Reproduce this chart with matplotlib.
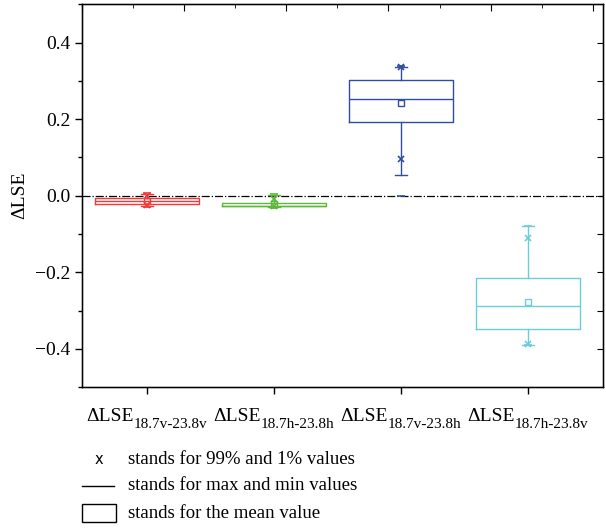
import matplotlib
matplotlib.use("Agg")
import matplotlib.pyplot as plt
import matplotlib.transforms as mtransforms
from matplotlib.patches import Rectangle
from matplotlib.lines import Line2D

plt.rcParams['font.family'] = ['Liberation Serif', 'DejaVu Serif']

# data
labels = ['18.7v-23.8v', '18.7h-23.8h', '18.7v-23.8h', '18.7h-23.8v']
q1 = [-0.021, -0.027, 0.192, -0.347]
med = [-0.013, -0.026, 0.253, -0.289]
q3 = [-0.005, -0.018, 0.301, -0.216]
whislo = [-0.027, -0.030, 0.053, -0.389]
whishi = [0.005, 0.003, 0.337, -0.079]
mean = [-0.015, -0.022, 0.242, -0.279]
p01 = [-0.025, -0.028, 0.095, -0.387]
p99 = [-0.002, -0.008, 0.335, -0.110]
vmin = [-0.029, -0.031, 0.000, -0.390]
vmax = [0.006, 0.004, 0.340, -0.079]
colors = ['#f23a3a', '#5cb83a', '#2f4ea3', '#6cccdc']

fig = plt.figure(figsize=(6.06, 5.31), dpi=100)
ax = fig.add_axes([0.1353, 0.271, 0.8597, 0.721])

positions = list(range(1, len(labels) + 1))
for i, pos in enumerate(positions):
    st = dict(q1=q1[i], med=med[i], q3=q3[i], whislo=whislo[i],
              whishi=whishi[i], mean=mean[i], fliers=[])
    c = colors[i]
    ax.bxp([st], positions=[pos], widths=0.82, capwidths=0.1,
           showmeans=True, showfliers=False,
           boxprops=dict(color=c, linewidth=1.0),
           medianprops=dict(color=c, linewidth=1.0),
           whiskerprops=dict(color=c, linewidth=1.0),
           capprops=dict(color=c, linewidth=1.0),
           meanprops=dict(marker='s', markerfacecolor='none',
                          markeredgecolor=c, markersize=4.5, markeredgewidth=1.0))
    ax.plot([pos, pos], [p01[i], p99[i]], linestyle='none', marker='x',
            color=c, markersize=5, markeredgewidth=1.2)
    ax.plot([pos, pos], [vmin[i], vmax[i]], linestyle='none', marker='_',
            color=c, markersize=6, markeredgewidth=1.2)

ax.axhline(0, color='black', linestyle='-.', linewidth=0.9, zorder=0)

ax.set_xlim(0.488, 4.59)
ax.set_ylim(-0.5, 0.5)
ax.set_yticks([-0.4, -0.2, 0.0, 0.2, 0.4])
ax.set_yticks([-0.5, -0.3, -0.1, 0.1, 0.3, 0.5], minor=True)
ax.set_yticklabels(['\u22120.4', '\u22120.2', '0.0', '0.2', '0.4'])
ax.set_xticks(positions)
ax.set_xticklabels([])
ax.tick_params(axis='both', which='major', labelsize=14, length=5, width=1.0, direction='out')
ax.tick_params(axis='y', which='minor', length=3, width=1.0, direction='out')
for s in ax.spines.values():
    s.set_linewidth(1.0)
ax.set_ylabel('\u0394LSE', fontsize=14, labelpad=5)

# inward ticks on the right and top
axr = ax.twinx()
axr.set_ylim(-0.5, 0.5)
axr.set_yticks([-0.4, -0.3, -0.2, -0.1, 0.0, 0.1, 0.2, 0.3, 0.4])
axr.tick_params(axis='y', direction='in', length=4, labelright=False)
axt = ax.twiny()
axt.set_xlim(0, 10.2)
axt.set_xticks([0, 2, 4, 6, 8, 10])
axt.set_xticks([1, 3, 5, 7, 9], minor=True)
axt.tick_params(axis='x', which='major', direction='in', length=5, labeltop=False)
axt.tick_params(axis='x', which='minor', direction='in', length=3)

# category labels: "ΔLSE" with a subscript, centred under each tick
base = mtransforms.blended_transform_factory(ax.transData, ax.transAxes)
mains, subs = [], []
for pos, l in zip(positions, labels):
    mains.append(ax.text(pos, 0, '\u0394LSE', fontsize=14, ha='left', va='baseline',
                         transform=base, clip_on=False))
    subs.append(ax.text(pos, 0, l, fontsize=11, ha='left', va='baseline',
                        transform=base, clip_on=False))
fig.canvas.draw()
r = fig.canvas.get_renderer()
for m, s in zip(mains, subs):
    w1 = m.get_window_extent(r).width
    w2 = s.get_window_extent(r).width
    x0 = -(w1 + w2) / 2
    m.set_transform(mtransforms.offset_copy(base, fig, x=x0, y=-34, units='dots'))
    s.set_transform(mtransforms.offset_copy(base, fig, x=x0 + w1, y=-41, units='dots'))

# key below the axes
fs = 13.5
fig.text(99 / 606, 1 - 460 / 531, 'x', fontsize=10.5, ha='center', va='center', family='DejaVu Sans')
fig.add_artist(Line2D([82 / 606, 114 / 606], [1 - 486 / 531] * 2, color='black', linewidth=1.0))
fig.add_artist(Rectangle((82 / 606, 1 - 522 / 531), 34 / 606, 18 / 531, fill=False,
                         edgecolor='black', linewidth=1.0))
key_text = ['stands for 99% and 1% values', 'stands for max and min values', 'stands for the mean value']
for t, y in zip(key_text, [460, 486, 513]):
    fig.text(128 / 606, 1 - y / 531, t, fontsize=fs, va='center', ha='left')

fig.savefig('out.png', dpi=100)
